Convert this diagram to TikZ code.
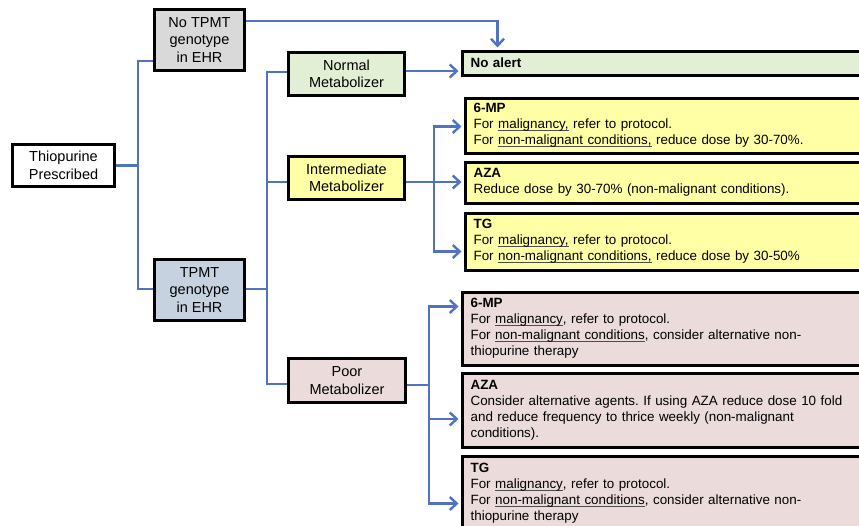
\documentclass[tikz,border=0pt]{standalone}
\usepackage{fontspec}
\setmainfont{Liberation Sans}
\usetikzlibrary{arrows.meta,calc}
\definecolor{cgray}{HTML}{D9D9D9}
\definecolor{cgreen}{HTML}{E2EFD5}
\definecolor{cyellow}{HTML}{FFFFA6}
\definecolor{cpink}{HTML}{EBDBDB}
\definecolor{cblue}{HTML}{C6D2E0}
\definecolor{cline}{HTML}{4F72C2}
\newsavebox\myulbox
\newcommand\myul[1]{\sbox\myulbox{#1}\rlap{\textcolor{black!70}{\rule[-2.2pt]{\wd\myulbox}{0.7pt}}}\usebox\myulbox}
\frenchspacing
\begin{document}
\begin{tikzpicture}[x=1pt,y=-1pt,
  cbox/.style={draw=black, line width=3pt, align=center, inner sep=0pt,
    font=\fontsize{14.5}{17.5}\selectfont},
  tbox/.style={draw=black, line width=3pt, align=left, inner xsep=8.6pt, inner ysep=0pt,
    text width=400pt, anchor=north west, font=\fontsize{13.4}{16}\selectfont},
  conn/.style={draw=cline, line width=2.4pt},
  arr/.style={conn, -{Straight Barb[length=7pt,width=13pt]}, shorten >=2pt}]
\useasboundingbox (0,0) rectangle (859,525);
\clip (0,0) rectangle (859,525);
% main boxes
\node[cbox, fill=white, minimum width=102pt, minimum height=42pt] (thio) at (63.5,165.5) {Thiopurine\\Prescribed};
\node[cbox, fill=cgray, minimum width=90pt, minimum height=61pt] (notpmt) at (199.5,40) {No TPMT\\genotype\\in EHR};
\node[cbox, fill=cblue, minimum width=90pt, minimum height=61pt] (tpmt) at (199.5,290) {TPMT\\genotype\\in EHR};
\node[cbox, fill=cgreen, minimum width=116pt, minimum height=43pt] (normal) at (346.5,74) {Normal\\Metabolizer};
\node[cbox, fill=cyellow, minimum width=116pt, minimum height=43pt] (inter) at (346.5,178) {Intermediate\\Metabolizer};
\node[cbox, fill=cpink, minimum width=117pt, minimum height=44pt] (poor) at (347,380.5) {Poor\\Metabolizer};
% text boxes
\node[tbox, fill=cgreen, minimum height=24pt] (noalert) at (460.5,49.5) {\textbf{No alert}};
\node[tbox, fill=cyellow, minimum height=55pt] (y6mp) at (463.5,96.5) {\textbf{6-MP}\\For \myul{malignancy,} refer to protocol.\\For \myul{non-malignant conditions,} reduce dose by 30-70\%.};
\node[tbox, fill=cyellow, minimum height=41pt] (yaza) at (463.5,160.5) {\textbf{AZA}\\Reduce dose by 30-70\% (non-malignant conditions).};
\node[tbox, fill=cyellow, minimum height=57pt] (ytg) at (463.5,211.5) {\textbf{TG}\\For \myul{malignancy,} refer to protocol.\\For \myul{non-malignant conditions,} reduce dose by 30-50\%};
\node[tbox, fill=cpink, minimum height=73pt] (p6mp) at (460.5,290.5) {\textbf{6-MP}\\For \myul{malignancy}, refer to protocol.\\For \myul{non-malignant conditions}, consider alternative non-\\thiopurine therapy};
\node[tbox, fill=cpink, minimum height=74pt] (paza) at (460.5,371.5) {\textbf{AZA}\\Consider alternative agents. If using AZA reduce dose 10 fold\\and reduce frequency to thrice weekly (non-malignant\\conditions).};
\node[tbox, fill=cpink, minimum height=74pt] (ptg) at (460.5,454.5) {\textbf{TG}\\For \myul{malignancy}, refer to protocol.\\For \myul{non-malignant conditions}, consider alternative non-\\thiopurine therapy};
% junctions
\coordinate (j1) at (138,165.5);
\coordinate (j2) at (267,289);
\coordinate (j3) at (434,182);
\coordinate (j4) at (429,385);
% connectors
\draw[conn] (thio.east) -- (j1);
\draw[conn] ([yshift=-21pt]notpmt.west) -| (j1) |- ([yshift=1pt]tpmt.west);
\draw[arr] ([yshift=19pt]notpmt.east) -| ([xshift=37pt]noalert.north west);
\draw[conn] (tpmt.east |- j2) -- (j2);
\draw[conn] ([yshift=2pt]normal.west) -| (j2) |- ([yshift=-3.5pt]poor.west);
\draw[conn] (j2) |- ([yshift=-4pt]inter.west);
\draw[arr] ([yshift=3pt]normal.east) -- ([yshift=3pt]normal.east -| noalert.west);
\draw[conn] ([yshift=-4pt]inter.east) -- (j3);
\draw[arr] (j3) |- ([yshift=-1pt]y6mp.west);
\draw[arr] (j3) -- (j3 -| yaza.west);
\draw[arr] (j3) |- ([yshift=-10pt]ytg.west);
\draw[conn] ([yshift=-4.5pt]poor.east) -- (j4);
\draw[arr] (j4) |- ([yshift=22pt]p6mp.west);
\draw[arr] (j4) |- ([yshift=-9pt]paza.west);
\draw[arr] (j4) |- ([yshift=-10.5pt]ptg.west);
\end{tikzpicture}
\end{document}
